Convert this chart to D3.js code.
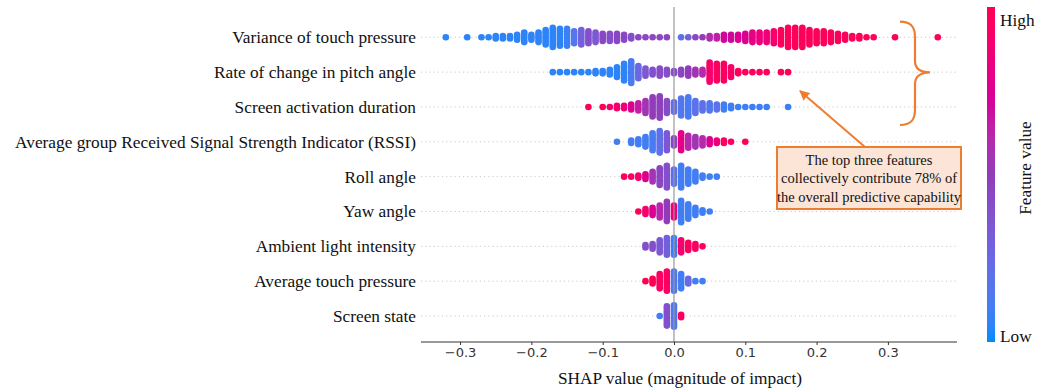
<!DOCTYPE html>
<html>
<head>
<meta charset="utf-8">
<script src="https://cdn.jsdelivr.net/npm/d3@7"></script>
<style>
  body { margin: 0; background: #fff; }
  svg { display: block; }
</style>
</head>
<body>
<svg id="chart" width="1048" height="389"></svg>
<script>
// features, top to bottom
const features = [
  "Variance of touch pressure",
  "Rate of change in pitch angle",
  "Screen activation duration",
  "Average group Received Signal Strength Indicator (RSSI)",
  "Roll angle",
  "Yaw angle",
  "Ambient light intensity",
  "Average touch pressure",
  "Screen state"
];

// SHAP values read off the swarm, binned at 0.01: first bin centre, dots per bin,
// and the mean feature value of the bin (0 = low, 1 = high)
const binWidth = 0.01;
const binStart = [-0.32, -0.17, -0.12, -0.08, -0.07, -0.05, -0.04, -0.04, -0.02];

const binCounts = [
  [1,0,0,1,0,1,1,2,2,2, 3,5,3,5,7,9,8,8,6,7, 6,5,4,4,4,3,2,1,1,1,
   1,1,0,1,1,1,1,2,2,3, 3,3,4,5,5,5,6,7,9,9, 9,7,6,6,5,4,3,2,2,1,
   1,0,0,1,0,0,0,0,0,1],
  [1,1,1,1,1,1,2,2,3,5, 8,10,6,4,3,4,3,2,3,4, 3,3,9,8,8,5,2,1,1,1, 1,0,1,1],
  [1,0,1,1,2,2,3,4,6,9, 10,6,5,8,9,6,4,4,3,3, 2,1,1,1,1,1,0,0,1],
  [1,0,2,3,5,8,10,8,4,8, 6,5,4,3,2,2,1,0,1],
  [1,1,2,3,5,8,10,7,10,7, 5,2,1,1],
  [1,3,4,6,9,6,10,7,4,2, 1],
  [2,3,6,8,8,6,4,3,1],
  [1,3,7,9,9,7,3,1,1],
  [1,9,10,2]
];

const binColors = [
  [0.05,0.05,0.05,0.05,0.05,0.05,0.05,0.05,0.05,0.05, 0.05,0.05,0.05,0.05,0.05,0.05,0.05,0.08,0.15,0.3,
   0.4,0.35,0.45,0.4,0.45,0.45,0.4,0.45,0.45,0.45, 0.45,0.45,0.3,0.2,0.3,0.45,0.5,0.6,0.65,0.7,
   0.7,0.75,0.75,0.8,0.85,0.85,0.9,0.97,0.97,0.97, 0.97,0.97,0.97,0.97,0.97,0.97,0.97,0.97,0.97,0.97,
   0.97,0.97,0.97,0.97,0.97,0.97,0.97,0.97,0.97,0.97],
  [0.05,0.05,0.05,0.05,0.05,0.05,0.05,0.05,0.05,0.05, 0.05,0.12,0.25,0.35,0.4,0.42,0.42,0.4,0.45,0.5,
   0.55,0.6,0.9,0.95,0.95,0.92,0.97,0.97,0.97,0.97, 0.97,0.97,0.97,0.97],
  [0.97,0.97,0.97,0.92,0.9,0.85,0.75,0.65,0.55,0.5, 0.48,0.42,0.22,0.15,0.12,0.18,0.2,0.15,0.2,0.1,
   0.1,0.08,0.08,0.08,0.08,0.08,0.08,0.08,0.08],
  [0.1,0.1,0.1,0.1,0.1,0.12,0.2,0.35,0.45,0.8, 0.6,0.55,0.6,0.75,0.85,0.95,0.95,0.95,1],
  [0.97,0.95,0.9,0.75,0.55,0.45,0.4,0.2,0.1,0.1, 0.1,0.1,0.1,0.1],
  [0.97,0.9,0.75,0.6,0.5,0.85,0.1,0.1,0.1,0.1, 0.1],
  [0.4,0.4,0.35,0.3,0.1,0.9,0.95,0.95,0.95],
  [1,1,0.95,0.95,0.15,0.1,0.25,0.1,0.1],
  [0.1,0.4,0.15,0.95]
];

const xTicks = [-0.3, -0.2, -0.1, 0.0, 0.1, 0.2, 0.3];
const noteLines = [
  "The top three features",
  "collectively contribute 78% of",
  "the overall predictive capability"
];

const serif = "'Liberation Serif', 'Times New Roman', serif";
const svg = d3.select("#chart");

const x = d3.scaleLinear().domain([-0.3548, 0.3969]).range([421, 957]);
const y = d3.scalePoint().domain(features).range([37.3, 316]);

// shap red_blue colormap (blue -> purple -> red)
const color = d3.scaleLinear()
  .domain([0, 0.5, 1])
  .range(["#008bfb", d3.hcl(315, 72, 42).formatHex(), "#ff0052"])
  .interpolate(d3.interpolateHcl);

// dotted row lines
svg.append("g").selectAll("line")
  .data(features)
  .enter().append("line")
  .attr("x1", 421).attr("x2", 957)
  .attr("y1", d => y(d)).attr("y2", d => y(d))
  .attr("stroke", "#c8c8c8")
  .attr("stroke-width", 1)
  .attr("stroke-dasharray", "1.2,3");

// build the dots: stack each bin symmetrically around the row line
let dots = [];
const spacing = 2.4;
features.forEach((f, i) => {
  binCounts[i].forEach((n, j) => {
    const v = binStart[i] + j * binWidth;
    for (let k = 0; k < n; k++) {
      dots.push({ f: f, v: v, c: binColors[i][j], dy: (k - (n - 1) / 2) * spacing });
    }
  });
});

svg.append("g").selectAll("circle")
  .data(dots)
  .enter().append("circle")
  .attr("cx", d => x(d.v))
  .attr("cy", d => y(d.f) + d.dy)
  .attr("r", 3.3)
  .attr("fill", d => color(d.c));

// zero line
svg.append("line")
  .attr("x1", x(0)).attr("x2", x(0))
  .attr("y1", 7).attr("y2", 342)
  .attr("stroke", "#999")
  .attr("stroke-width", 1.2);

// feature labels
svg.append("g").selectAll("text")
  .data(features)
  .enter().append("text")
  .attr("x", 416)
  .attr("y", d => y(d))
  .attr("dy", "0.34em")
  .attr("text-anchor", "end")
  .attr("font-family", serif)
  .attr("font-size", 17.3)
  .attr("fill", "#111")
  .text(d => d);

// x axis
const xAxis = d3.axisBottom(x)
  .tickValues(xTicks)
  .tickSize(3)
  .tickPadding(3)
  .tickFormat(d3.format(".1f"));

const gx = svg.append("g")
  .attr("transform", "translate(0,342)")
  .call(xAxis);
gx.select(".domain").attr("d", "M421,0H957").attr("stroke", "#333");
gx.selectAll(".tick line").attr("stroke", "#333");
gx.selectAll(".tick text")
  .attr("font-family", "'DejaVu Sans', sans-serif")
  .attr("font-size", 13)
  .attr("fill", "#333");

svg.append("text")
  .attr("x", 680).attr("y", 384)
  .attr("text-anchor", "middle")
  .attr("font-family", serif)
  .attr("font-size", 17.3)
  .attr("fill", "#111")
  .text("SHAP value (magnitude of impact)");

// colour bar
const grad = svg.append("defs").append("linearGradient")
  .attr("id", "cbar")
  .attr("x1", 0).attr("y1", 1).attr("x2", 0).attr("y2", 0);
grad.selectAll("stop")
  .data(d3.range(0, 1.001, 0.05))
  .enter().append("stop")
  .attr("offset", d => d)
  .attr("stop-color", d => color(d));

svg.append("rect")
  .attr("x", 987).attr("y", 7)
  .attr("width", 8).attr("height", 335)
  .attr("fill", "url(#cbar)");

svg.append("text")
  .attr("x", 1000).attr("y", 20).attr("dy", "0.34em")
  .attr("font-family", serif).attr("font-size", 17.3).attr("fill", "#111")
  .text("High");
svg.append("text")
  .attr("x", 1000).attr("y", 336).attr("dy", "0.34em")
  .attr("font-family", serif).attr("font-size", 17.3).attr("fill", "#111")
  .text("Low");
svg.append("text")
  .attr("transform", "translate(1025,168) rotate(-90)")
  .attr("text-anchor", "middle")
  .attr("dy", "0.34em")
  .attr("font-family", serif).attr("font-size", 17.3).attr("fill", "#111")
  .text("Feature value");

// annotation: brace, arrow and note box
const orange = "#ed7d31";
svg.append("path")
  .attr("d", "M900,21.7 C911,21.7 915,27 915,37 L915,61 C915,68 920,72.3 930,72.3 " +
             "C920,72.3 915,77 915,84 L915,110 C915,120 911,125 900,125")
  .attr("fill", "none")
  .attr("stroke", orange)
  .attr("stroke-width", 2.2);

svg.append("defs").append("marker")
  .attr("id", "head")
  .attr("viewBox", "0 0 10 10")
  .attr("refX", 9).attr("refY", 5)
  .attr("markerWidth", 5).attr("markerHeight", 5)
  .attr("orient", "auto")
  .append("path")
  .attr("d", "M0,0 L10,5 L0,10 z")
  .attr("fill", orange);

svg.append("line")
  .attr("x1", 865).attr("y1", 147)
  .attr("x2", 800).attr("y2", 91)
  .attr("stroke", orange)
  .attr("stroke-width", 2)
  .attr("marker-end", "url(#head)");

svg.append("rect")
  .attr("x", 777).attr("y", 147)
  .attr("width", 184).attr("height", 62)
  .attr("fill", "#fce4d6")
  .attr("stroke", orange)
  .attr("stroke-width", 2);

svg.append("g").selectAll("text")
  .data(noteLines)
  .enter().append("text")
  .attr("x", 869)
  .attr("y", (d, i) => 160 + i * 18.5)
  .attr("dy", "0.34em")
  .attr("text-anchor", "middle")
  .attr("font-family", serif)
  .attr("font-size", 14.5)
  .attr("fill", "#111")
  .text(d => d);
</script>
</body>
</html>
